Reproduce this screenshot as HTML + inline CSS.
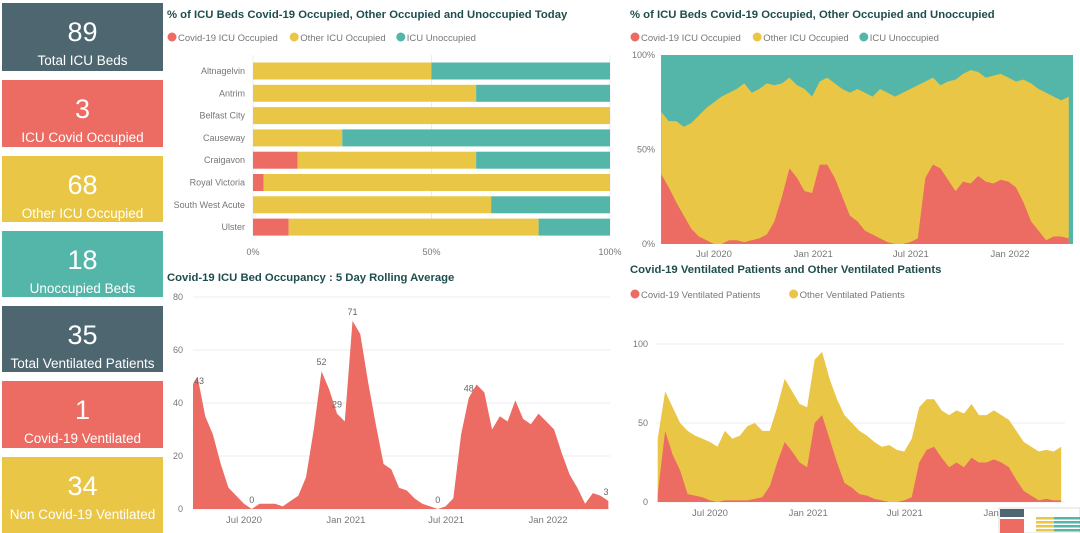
<!DOCTYPE html>
<html><head><meta charset="utf-8">
<style>
html,body{margin:0;padding:0;background:#fff;width:1080px;height:533px;overflow:hidden;font-family:"Liberation Sans",sans-serif}
.card{position:absolute;left:2px;width:161px;color:#fff;text-align:center}
.card .v{font-size:27px;line-height:30px;margin-top:14px}
.card .l{font-size:13.5px;line-height:16px;margin-top:6px;white-space:nowrap}
svg{position:absolute;left:0;top:0}
</style></head><body>
<div class="card" style="top:3px;height:68px;background:#4e6670"><div class="v">89</div><div class="l">Total ICU Beds</div></div>
<div class="card" style="top:80px;height:67px;background:#ec6b63"><div class="v">3</div><div class="l">ICU Covid Occupied</div></div>
<div class="card" style="top:156px;height:66px;background:#e9c645"><div class="v">68</div><div class="l">Other ICU Occupied</div></div>
<div class="card" style="top:231px;height:66px;background:#54b6a8"><div class="v">18</div><div class="l">Unoccupied Beds</div></div>
<div class="card" style="top:306px;height:66px;background:#4e6670"><div class="v">35</div><div class="l">Total Ventilated Patients</div></div>
<div class="card" style="top:381px;height:67px;background:#ec6b63"><div class="v">1</div><div class="l">Covid-19 Ventilated</div></div>
<div class="card" style="top:457px;height:76px;background:#e9c645"><div class="v">34</div><div class="l">Non Covid-19 Ventilated</div></div>
<svg id="s" width="1080" height="533" xmlns="http://www.w3.org/2000/svg"></svg>
<script>
// Bar chart data
const hospitals=["Altnagelvin","Antrim","Belfast City","Causeway","Craigavon","Royal Victoria","South West Acute","Ulster"];
const barCovid=[0,0,0,0,12.5,3,0,10];
const barOther=[50,62.5,100,25,50,97,66.7,70];
const barUnocc=[50,37.5,0,75,37.5,0,33.3,20];
const barTicks=["0%","50%","100%"];
// Time series (fortnightly from 2020-03-25)
const startDate="2020-03-25";
const rollingAvg=[45,50,35,28,17,8,5,2,0,2,2,2,1,3,5,12,30,52,45,36,33,71,66,48,32,17,15,8,7,4,2,1,0,1,4,28,42,47,44,30,35,33,41,34,32,36,33,30,21,13,8,2,6,5,3];
const rollLabels=[[0,"43"],[8,"0"],[17,"52"],[19,"29"],[21,"71"],[32,"0"],[36,"48"],[54,"3"]];
const covidPct=[37,30,22,15,8,4,2,0,0,2,2,1,2,3,5,12,25,40,35,28,27,42,42,35,25,15,12,7,5,3,1,0,0,1,3,35,42,40,34,28,33,32,36,33,32,34,33,30,22,12,7,2,4,4,3];
const otherPct=[33,35,43,47,56,64,70,75,78,78,80,84,78,79,80,72,60,48,49,54,51,44,46,50,57,65,70,73,73,79,79,78,80,81,81,51,46,44,52,59,57,60,55,55,57,56,55,56,65,73,75,78,74,72,75];
const covidVent=[5,45,30,20,5,4,3,1,0,1,1,1,1,2,3,10,25,38,32,25,22,50,55,40,25,12,9,5,4,2,1,0,0,1,3,25,33,35,28,22,25,22,28,25,25,27,25,22,14,7,4,1,2,1,1];
const otherVent=[35,25,30,30,40,38,37,37,35,44,39,41,47,48,42,35,35,40,38,37,38,40,40,38,40,43,41,40,38,36,34,36,33,31,37,35,32,30,30,33,33,34,34,30,30,31,30,30,31,31,31,31,31,31,34];
const dateTicks=["2020-07-01","2021-01-01","2021-07-01","2022-01-01"];
const dateTickLabels=["Jul 2020","Jan 2021","Jul 2021","Jan 2022"];

const S=document.getElementById('s'),NS="http://www.w3.org/2000/svg";
const RED="#ec6b63",YEL="#e9c645",TEAL="#54b6a8",TITLE="#1f4d4d",GRID="#ececec",LBL="#777";
function el(t,a,txt){const e=document.createElementNS(NS,t);for(const k in a)e.setAttribute(k,a[k]);if(txt!=null)e.textContent=txt;S.appendChild(e);return e;}
const day=864e5,t0=new Date(startDate).getTime();
function dateOf(i){return t0+i*14*day;}
function xScale(p1,p2){const a=new Date(dateTicks[0]).getTime(),b=new Date(dateTicks[3]).getTime();return t=>p1+(t-a)/(b-a)*(p2-p1);}
function legend(x,y,items){let cx=x;items.forEach(([c,t])=>{const d=el('circle',{cx:cx+5,cy:y-3,r:4.5,fill:c});const tx=el('text',{x:cx+11,y:y+1,'font-size':9.5,fill:LBL},t);cx+=13+t.length*5.2;});}
function title(x,y,t,n){const e=el('text',{x:x,y:y,'font-size':11.3,'font-weight':'bold',fill:TITLE},t);}
function area(pts,base,color,name){let d="M"+pts[0][0]+","+base;pts.forEach(p=>d+="L"+p[0]+","+p[1]);d+="L"+pts[pts.length-1][0]+","+base+"Z";const e=el('path',{d:d,fill:color});return e;}
function xTicks(xs,y){dateTicks.forEach((d,i)=>{const e=el('text',{x:xs(new Date(d).getTime()),y:y,'font-size':9.5,fill:LBL,'text-anchor':'middle'},dateTickLabels[i]);});}
function clip(id,x,y,w,h){const cp=document.createElementNS(NS,'clipPath');cp.setAttribute('id',id);const cr=document.createElementNS(NS,'rect');cr.setAttribute('x',x);cr.setAttribute('y',y);cr.setAttribute('width',w);cr.setAttribute('height',h);cp.appendChild(cr);S.appendChild(cp);}

// Chart 1: stacked bars
title(167,18,"% of ICU Beds Covid-19 Occupied, Other Occupied and Unoccupied Today","bar-chart-title");
legend(167,40,[[RED,"Covid-19 ICU Occupied"],[YEL,"Other ICU Occupied"],[TEAL,"ICU Unoccupied"]]);
const bx0=253,bx1=610,bw=v=>v/100*(bx1-bx0);
[0,50,100].forEach((v,i)=>{el('line',{x1:bx0+bw(v),x2:bx0+bw(v),y1:55,y2:236,stroke:GRID});const e=el('text',{x:bx0+bw(v),y:255,'font-size':9,fill:LBL,'text-anchor':'middle'},barTicks[i]);});
hospitals.forEach((h,i)=>{const cy=71+i*22.3;let x=bx0;
 const lb=el('text',{x:245,y:cy+3,'font-size':9,fill:LBL,'text-anchor':'end'},h);
 [[barCovid[i],RED],[barOther[i],YEL],[barUnocc[i],TEAL]].forEach(([v,c])=>{if(v>0){const r=el('rect',{x:x,y:cy-8.5,width:bw(v),height:17,fill:c});x+=bw(v);}});});

// Chart 2: 100% stacked area
title(630,18,"% of ICU Beds Covid-19 Occupied, Other Occupied and Unoccupied","pct-area-title");
legend(630,40,[[RED,"Covid-19 ICU Occupied"],[YEL,"Other ICU Occupied"],[TEAL,"ICU Unoccupied"]]);
{const xs=xScale(714,1010),y0=244,y1=55,ys=v=>y0-v/100*(y0-y1);
 clip('c2',661,y1,412,y0-y1);
 const r=el('rect',{x:661,y:y1,width:412,height:y0-y1,fill:TEAL});
 const a1=area(covidPct.map((v,i)=>[xs(dateOf(i)),ys(v+otherPct[i])]),y0,YEL,'other-occupied-area');a1.setAttribute('clip-path','url(#c2)');
 const a2=area(covidPct.map((v,i)=>[xs(dateOf(i)),ys(v)]),y0,RED,'covid-occupied-area');a2.setAttribute('clip-path','url(#c2)');
 [["100%",100],["50%",50],["0%",0]].forEach(([t,v])=>{const e=el('text',{x:655,y:ys(v)+3,'font-size':9,fill:LBL,'text-anchor':'end'},t);});
 xTicks(xs,257);}

// Chart 3: rolling average
title(167,281,"Covid-19 ICU Bed Occupancy : 5 Day Rolling Average","rolling-avg-title");
{const xs=xScale(244,548),y0=509,y1=297,ys=v=>y0-v/80*(y0-y1);
 [0,20,40,60,80].forEach(v=>{el('line',{x1:193,x2:610,y1:ys(v),y2:ys(v),stroke:GRID});const e=el('text',{x:183,y:ys(v)+3,'font-size':9,fill:LBL,'text-anchor':'end'},v);});
 clip('c3',193,280,417,240);
 const a=area(rollingAvg.map((v,i)=>[xs(dateOf(i)),ys(v)]),y0,RED,'covid-rolling-area');a.setAttribute('clip-path','url(#c3)');
 rollLabels.forEach(([i,t])=>{let x=Math.min(Math.max(xs(dateOf(i)),199),606);const e=el('text',{x:x,y:ys(rollingAvg[i])-6,'font-size':9,fill:'#666','text-anchor':'middle'},t);});
 xTicks(xs,523);}

// Chart 4: ventilated
title(630,273,"Covid-19 Ventilated Patients and Other Ventilated Patients","ventilated-title");
legend(630,297,[[RED,"Covid-19 Ventilated Patients"],[YEL,"Other Ventilated Patients"]]);
{const xs=xScale(710,1003),y0=502,y1=344,ys=v=>y0-v/100*(y0-y1);
 [0,50,100].forEach(v=>{el('line',{x1:656,x2:1065,y1:ys(v),y2:ys(v),stroke:GRID});const e=el('text',{x:648,y:ys(v)+3,'font-size':9,fill:LBL,'text-anchor':'end'},v);});
 clip('c4',656,300,409,210);
 const a1=area(covidVent.map((v,i)=>[xs(dateOf(i)),ys(v+otherVent[i])]),y0,YEL,'other-ventilated-area');a1.setAttribute('clip-path','url(#c4)');
 const a2=area(covidVent.map((v,i)=>[xs(dateOf(i)),ys(v)]),y0,RED,'covid-ventilated-area');a2.setAttribute('clip-path','url(#c4)');
 xTicks(xs,516);}

// thumbnail
{const r=el('rect',{x:999,y:508,width:81,height:25,fill:'#fff',stroke:'#ddd'});
 const b=el('rect',{x:1000,y:509,width:24,height:8,fill:'#4e6670'});
 const c=el('rect',{x:1000,y:519,width:24,height:14,fill:RED});
 [[1036,18,YEL],[1054,26,TEAL]].forEach(([x,w,col])=>{for(let j=0;j<4;j++){const q=el('rect',{x:x,y:517+j*4,width:w,height:2.5,fill:col});}});}
</script>
</body></html>
